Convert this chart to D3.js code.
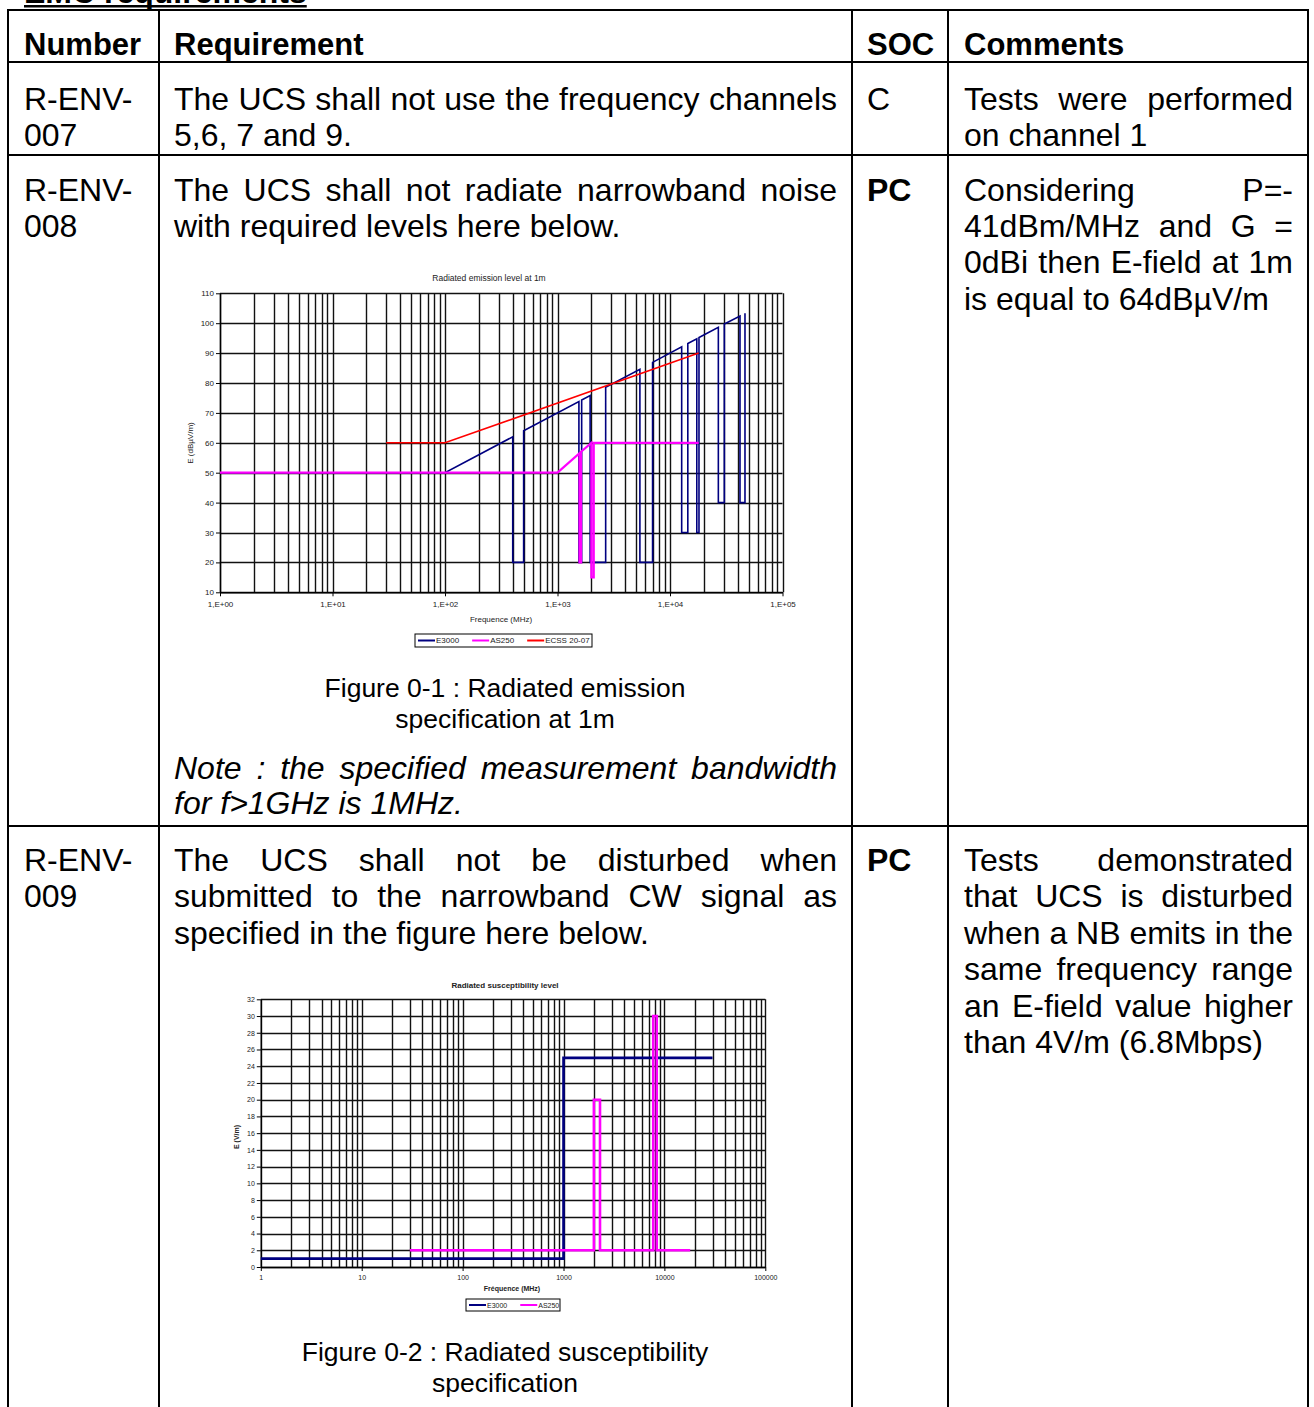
<!DOCTYPE html>
<html>
<head>
<meta charset="utf-8">
<script src="https://cdn.jsdelivr.net/npm/d3@7"></script>
<style>
  body { margin: 0; background: #fff; }
  text { font-family: "Liberation Sans", Arial, sans-serif; }
</style>
</head>
<body>
<svg id="page"></svg>
<script>
// ---- chart data ----
// Figure 0-1 : radiated emission level at 1m, [MHz, dBuV/m]
const emiE3000 = [[1,50],[100,50],[400,62],[400,20],[500,20],[500,64],[1550,73.8],[1550,20],[1640,20],[1640,74.3],
  [1950,75.8],[1950,20],[2680,20],[2680,78.6],[5400,84.6],[5400,20],[7000,20],[7000,86.9],[12700,92.1],[12700,30],
  [14400,30],[14400,93.2],[17300,94.8],[17300,30],[18100,30],[18100,95.2],[26900,98.6],[26900,40],[30400,40],
  [30400,99.7],[41900,102.4],[41900,40],[46400,40],[46400,103.3]];
const emiAS250 = [[1,50],[1000,50],[1570,56.5],[1570,20],[1620,20],[1620,57],[2000,60],[2000,15],[2100,15],[2100,60],[18000,60]];
const emiECSS = [[30,60],[100,60],[18000,90]];
const emiYTicks = [10,20,30,40,50,60,70,80,90,100,110];
const emiXTicks = [1,10,100,1000,10000,100000];
const emiXLabels = ["1,E+00","1,E+01","1,E+02","1,E+03","1,E+04","1,E+05"];
const emiSeries = ["E3000","AS250","ECSS 20-07"];

// Figure 0-2 : radiated susceptibility level, [MHz, V/m]
const susE3000 = [[1,1],[1000,1],[1000,25],[30000,25]];
const susAS250 = [[30,2],[2000,2],[2000,20],[2300,20],[2300,2],[7750,2],[7750,30],[8400,30],[8400,2],[18000,2]];
const susYTicks = [0,2,4,6,8,10,12,14,16,18,20,22,24,26,28,30,32];
const susXTicks = [1,10,100,1000,10000,100000];
const susXLabels = ["1","10","100","1000","10000","100000"];
const susSeries = ["E3000","AS250"];

const colors = { "E3000": "#000080", "AS250": "#ff00ff", "ECSS 20-07": "#ff0000" };

const W = 1314, H = 1407;
const svg = d3.select("#page").attr("width", W).attr("height", H);
svg.append("rect").attr("width", W).attr("height", H).attr("fill", "#fff");

const measurer = svg.append("text").attr("x", -1000).attr("y", -1000);
function measure(str, size, weight, style) {
  measurer.attr("font-size", size).attr("font-weight", weight || "normal")
    .attr("font-style", style || "normal").text(str);
  return measurer.node().getComputedTextLength();
}

function line(g, str, x, y, size, weight, style, anchor) {
  return g.append("text").attr("x", x).attr("y", y)
    .attr("font-size", size).attr("font-weight", weight || "normal")
    .attr("font-style", style || "normal")
    .attr("text-anchor", anchor || "start").attr("fill", "#000").text(str);
}

// justified line: spread words between x0 and x1
function justLine(g, str, x0, x1, y, size, weight, style) {
  const words = str.split(" ");
  const ws = words.map(w => measure(w, size, weight, style));
  const gap = (x1 - x0 - d3.sum(ws)) / (words.length - 1);
  let x = x0;
  words.forEach((w, i) => {
    line(g, w, x, y, size, weight, style);
    x += ws[i] + gap;
  });
}

// ---- table ----
const tbl = svg.append("g");
const FS = 32;

// heading, cut off by the top edge as in the source
line(tbl, "EMC requirements", 24, 3, FS, "bold");
tbl.append("rect").attr("x", 24).attr("y", 5).attr("width", measure("EMC requirements", FS, "bold"))
  .attr("height", 2.5).attr("fill", "#000");

const colX = [8, 159, 852, 948, 1308];
const rowY = [10, 62, 155, 826];
colX.forEach(x => tbl.append("line").attr("x1", x).attr("x2", x).attr("y1", 10).attr("y2", H + 5)
  .attr("stroke", "#000").attr("stroke-width", 2));
rowY.forEach(y => tbl.append("line").attr("x1", 7).attr("x2", 1309).attr("y1", y).attr("y2", y)
  .attr("stroke", "#000").attr("stroke-width", 2));

line(tbl, "Number", 24, 55, FS - 1, "bold");
line(tbl, "Requirement", 174, 55, FS - 1, "bold");
line(tbl, "SOC", 867, 55, FS - 1, "bold");
line(tbl, "Comments", 964, 55, FS - 1, "bold");

// row 007
line(tbl, "R-ENV-", 24, 110, FS);
line(tbl, "007", 24, 146, FS);
justLine(tbl, "The UCS shall not use the frequency channels", 174, 837, 110, FS);
line(tbl, "5,6, 7 and 9.", 174, 146, FS);
line(tbl, "C", 867, 110, FS);
justLine(tbl, "Tests were performed", 964, 1293, 110, FS);
line(tbl, "on channel 1", 964, 146, FS);

// row 008
line(tbl, "R-ENV-", 24, 201, FS);
line(tbl, "008", 24, 237, FS);
justLine(tbl, "The UCS shall not radiate narrowband noise", 174, 837, 201, FS);
line(tbl, "with required levels here below.", 174, 237, FS);
line(tbl, "PC", 867, 201, FS, "bold");
justLine(tbl, "Considering P=-", 964, 1293, 201, FS);
justLine(tbl, "41dBm/MHz and G =", 964, 1293, 237, FS);
justLine(tbl, "0dBi then E-field at 1m", 964, 1293, 273, FS);
line(tbl, "is equal to 64dBµV/m", 964, 310, FS);
line(tbl, "Figure 0-1 : Radiated emission", 505, 697, 26.5, "normal", "normal", "middle");
line(tbl, "specification at 1m", 505, 728, 26.5, "normal", "normal", "middle");
justLine(tbl, "Note : the specified measurement bandwidth", 174, 837, 779, FS, "normal", "italic");
line(tbl, "for f>1GHz is 1MHz.", 174, 814, FS, "normal", "italic");

// row 009
line(tbl, "R-ENV-", 24, 871, FS);
line(tbl, "009", 24, 907, FS);
justLine(tbl, "The UCS shall not be disturbed when", 174, 837, 871, FS);
justLine(tbl, "submitted to the narrowband CW signal as", 174, 837, 907, FS);
line(tbl, "specified in the figure here below.", 174, 944, FS);
line(tbl, "PC", 867, 871, FS, "bold");
justLine(tbl, "Tests demonstrated", 964, 1293, 871, FS);
justLine(tbl, "that UCS is disturbed", 964, 1293, 907, FS);
justLine(tbl, "when a NB emits in the", 964, 1293, 944, FS);
justLine(tbl, "same frequency range", 964, 1293, 980, FS);
justLine(tbl, "an E-field value higher", 964, 1293, 1017, FS);
line(tbl, "than 4V/m (6.8Mbps)", 964, 1053, FS);
line(tbl, "Figure 0-2 : Radiated susceptibility", 505, 1361, 26.5, "normal", "normal", "middle");
line(tbl, "specification", 505, 1392, 26.5, "normal", "normal", "middle");

// ---- generic log chart ----
function logChart(cfg) {
  const g = svg.append("g");
  const x = d3.scaleLog().domain([1, 1e5]).range([cfg.x0, cfg.x1]);
  const y = d3.scaleLinear().domain(cfg.yDomain).range([cfg.y0, cfg.y1]);

  // grid
  g.append("g").selectAll("line").data(x.ticks()).join("line")
    .attr("x1", d => Math.round(x(d)) + 0.5).attr("x2", d => Math.round(x(d)) + 0.5)
    .attr("y1", cfg.y1).attr("y2", cfg.y0)
    .attr("stroke", "#111").attr("stroke-width", 1.4);
  g.append("g").selectAll("line").data(cfg.yTicks).join("line")
    .attr("x1", cfg.x0).attr("x2", cfg.x1)
    .attr("y1", d => Math.round(y(d)) + 0.5).attr("y2", d => Math.round(y(d)) + 0.5)
    .attr("stroke", "#111").attr("stroke-width", 1.4);

  // axes
  const ya = g.append("g").attr("transform", `translate(${cfg.x0},0)`)
    .call(d3.axisLeft(y).tickValues(cfg.yTicks).tickSize(4).tickSizeOuter(0).tickPadding(2));
  const xa = g.append("g").attr("transform", `translate(0,${cfg.y0})`)
    .call(d3.axisBottom(x).tickValues(cfg.xTicks).tickFormat((d, i) => cfg.xLabels[i])
      .tickSize(4).tickSizeOuter(0).tickPadding(cfg.xPad));
  [ya, xa].forEach(a => {
    a.selectAll("text").attr("font-size", cfg.tickFont).attr("fill", "#222")
      .attr("font-family", "Liberation Sans, Arial, sans-serif");
    a.selectAll("line").attr("stroke", "#000");
    a.select(".domain").attr("stroke", "#000").attr("stroke-width", 1.4);
  });

  // series
  const path = d3.line().x(d => x(d[0])).y(d => y(d[1]));
  cfg.series.forEach(s => {
    g.append("path").datum(s.data).attr("d", path).attr("fill", "none")
      .attr("stroke", colors[s.name]).attr("stroke-width", s.width).attr("stroke-linejoin", "miter");
  });

  // titles
  g.append("text").attr("x", cfg.titleX).attr("y", cfg.titleY).attr("text-anchor", "middle")
    .attr("font-size", cfg.titleFont).attr("font-weight", cfg.bold ? "bold" : "normal")
    .attr("fill", "#222").text(cfg.title);
  g.append("text").attr("x", cfg.xLabelX).attr("y", cfg.xLabelY).attr("text-anchor", "middle")
    .attr("font-size", cfg.labelFont).attr("font-weight", cfg.bold ? "bold" : "normal")
    .attr("fill", "#222").text(cfg.xLabel);
  g.append("text").attr("transform", `translate(${cfg.yLabelX},${cfg.yLabelY}) rotate(-90)`)
    .attr("text-anchor", "middle").attr("font-size", cfg.labelFont)
    .attr("font-weight", cfg.bold ? "bold" : "normal").attr("fill", "#222").text(cfg.yLabel);

  // legend
  const lg = g.append("g");
  lg.append("rect").attr("x", cfg.legX).attr("y", cfg.legY).attr("width", cfg.legW).attr("height", cfg.legH)
    .attr("fill", "#fff").attr("stroke", "#000").attr("stroke-width", 1);
  let lx = cfg.legX + 3;
  const ly = cfg.legY + cfg.legH / 2;
  cfg.series.forEach(s => {
    lg.append("line").attr("x1", lx).attr("x2", lx + 17).attr("y1", ly).attr("y2", ly)
      .attr("stroke", colors[s.name]).attr("stroke-width", 2);
    lg.append("text").attr("x", lx + 18).attr("y", ly + cfg.legFont * 0.36)
      .attr("font-size", cfg.legFont).attr("fill", "#222").text(s.name);
    lx += 18 + measure(s.name, cfg.legFont) + 13;
  });
}

logChart({
  x0: 220, x1: 782.5, y0: 592.3, y1: 293.3, yDomain: [10, 110],
  yTicks: emiYTicks, xTicks: emiXTicks, xLabels: emiXLabels, xPad: 5, tickFont: 8,
  series: [
    { name: emiSeries[0], data: emiE3000, width: 1.6 },
    { name: emiSeries[1], data: emiAS250, width: 2.2 },
    { name: emiSeries[2], data: emiECSS, width: 1.6 }
  ],
  title: "Radiated emission level at 1m", titleX: 489, titleY: 281, titleFont: 8.5, bold: false,
  xLabel: "Frequence (MHz)", xLabelX: 501, xLabelY: 622, labelFont: 8,
  yLabel: "E (dBµV/m)", yLabelX: 193, yLabelY: 443,
  legX: 415, legY: 634, legW: 177, legH: 13, legFont: 8
});

logChart({
  x0: 260.8, x1: 765.3, y0: 1267, y1: 999.3, yDomain: [0, 32],
  yTicks: susYTicks, xTicks: susXTicks, xLabels: susXLabels, xPad: 4, tickFont: 7,
  series: [
    { name: susSeries[0], data: susE3000, width: 2.6 },
    { name: susSeries[1], data: susAS250, width: 2.6 }
  ],
  title: "Radiated susceptibility level", titleX: 505, titleY: 988, titleFont: 8, bold: true,
  xLabel: "Fréquence (MHz)", xLabelX: 512, xLabelY: 1291, labelFont: 7,
  yLabel: "E (V/m)", yLabelX: 239, yLabelY: 1137,
  legX: 466, legY: 1299, legW: 94, legH: 12, legFont: 7
});

measurer.remove();
</script>
</body>
</html>
